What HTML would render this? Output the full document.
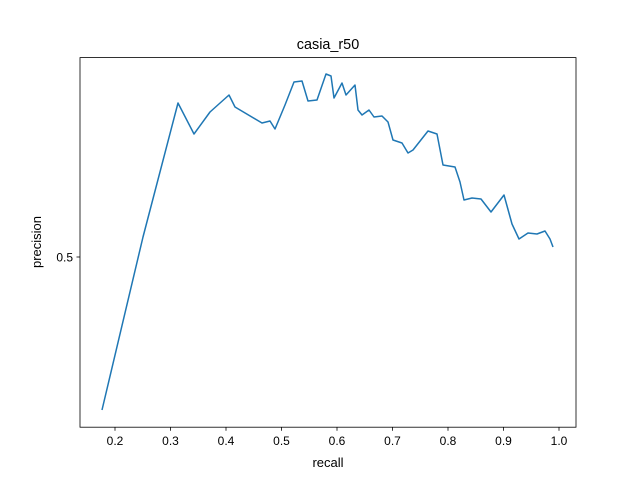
<!DOCTYPE html>
<html><head><meta charset="utf-8"><style>body{margin:0;background:#fff}svg{display:block}text{font-family:"Liberation Sans","DejaVu Sans",sans-serif}</style></head>
<body>
<svg id="chart" width="640" height="480">
<rect x="0" y="0" width="640" height="480" fill="#fff"/>
<text x="328" y="49" font-size="14.4" text-anchor="middle">casia_r50</text>
<g id="xticks"></g><g id="yticks"></g>
<path id="line" fill="none" stroke="#1f77b4" stroke-width="1.5" stroke-linejoin="round"/>
<rect x="80" y="57.6" width="496" height="369.6" fill="none" stroke="#000" stroke-width="0.8"/>
<text x="328" y="467" font-size="13" text-anchor="middle">recall</text>
<text transform="translate(41,242) rotate(-90)" font-size="13" text-anchor="middle">precision</text>
</svg>
<script>
const recall=[0.1766,0.2505,0.3135,0.3423,0.3712,0.4054,0.4162,0.4649,0.4793,0.4883,0.5063,0.5225,0.5369,0.5477,0.5640,0.5802,0.5892,0.5946,0.6090,0.6162,0.6324,0.6378,0.6450,0.6577,0.6667,0.6811,0.6919,0.7009,0.7171,0.7279,0.7369,0.7640,0.7802,0.7910,0.8126,0.8216,0.8288,0.8432,0.8595,0.8775,0.9009,0.9153,0.9279,0.9441,0.9604,0.9748,0.9838,0.9892];
const precision=[0.347,0.520,0.654,0.623,0.645,0.662,0.650,0.634,0.636,0.628,0.652,0.675,0.676,0.656,0.657,0.683,0.681,0.659,0.674,0.662,0.672,0.647,0.642,0.647,0.640,0.641,0.635,0.617,0.614,0.604,0.607,0.626,0.623,0.592,0.590,0.575,0.557,0.559,0.558,0.545,0.562,0.533,0.518,0.524,0.523,0.526,0.518,0.510];
const xTicks=[0.2,0.3,0.4,0.5,0.6,0.7,0.8,0.9,1.0];
const xTickLabels=["0.2","0.3","0.4","0.5","0.6","0.7","0.8","0.9","1.0"];
const yTicks=[0.5];
const yTickLabels=["0.5"];
const X=v=>115+(v-0.2)*555;
const Y=v=>257-(v-0.5)*1000;
const ns="http://www.w3.org/2000/svg";
const line=document.getElementById('line');
line.setAttribute('d',recall.map((r,i)=>(i?'L':'M')+X(r).toFixed(1)+','+Y(precision[i]).toFixed(1)).join(''));
const xg=document.getElementById('xticks');
xTicks.forEach((t,i)=>{
 const l=document.createElementNS(ns,'line');
 l.setAttribute('x1',X(t));l.setAttribute('x2',X(t));l.setAttribute('y1',427.2);l.setAttribute('y2',430.7);l.setAttribute('stroke','#000');l.setAttribute('stroke-width','0.8');
 
 
 xg.appendChild(l);
 const tx=document.createElementNS(ns,'text');
 tx.setAttribute('x',X(t));tx.setAttribute('y',445);tx.setAttribute('font-size','12');tx.setAttribute('text-anchor','middle');
 tx.textContent=xTickLabels[i];
 
 
 xg.appendChild(tx);
});
const yg=document.getElementById('yticks');
yTicks.forEach((t,i)=>{
 const l=document.createElementNS(ns,'line');
 l.setAttribute('x1',76.5);l.setAttribute('x2',80);l.setAttribute('y1',Y(t));l.setAttribute('y2',Y(t));l.setAttribute('stroke','#000');l.setAttribute('stroke-width','0.8');
 
 
 yg.appendChild(l);
 const tx=document.createElementNS(ns,'text');
 tx.setAttribute('x',73);tx.setAttribute('y',Y(t)+4.5);tx.setAttribute('font-size','12');tx.setAttribute('text-anchor','end');
 tx.textContent=yTickLabels[i];
 
 
 yg.appendChild(tx);
});
</script>
</body></html>
